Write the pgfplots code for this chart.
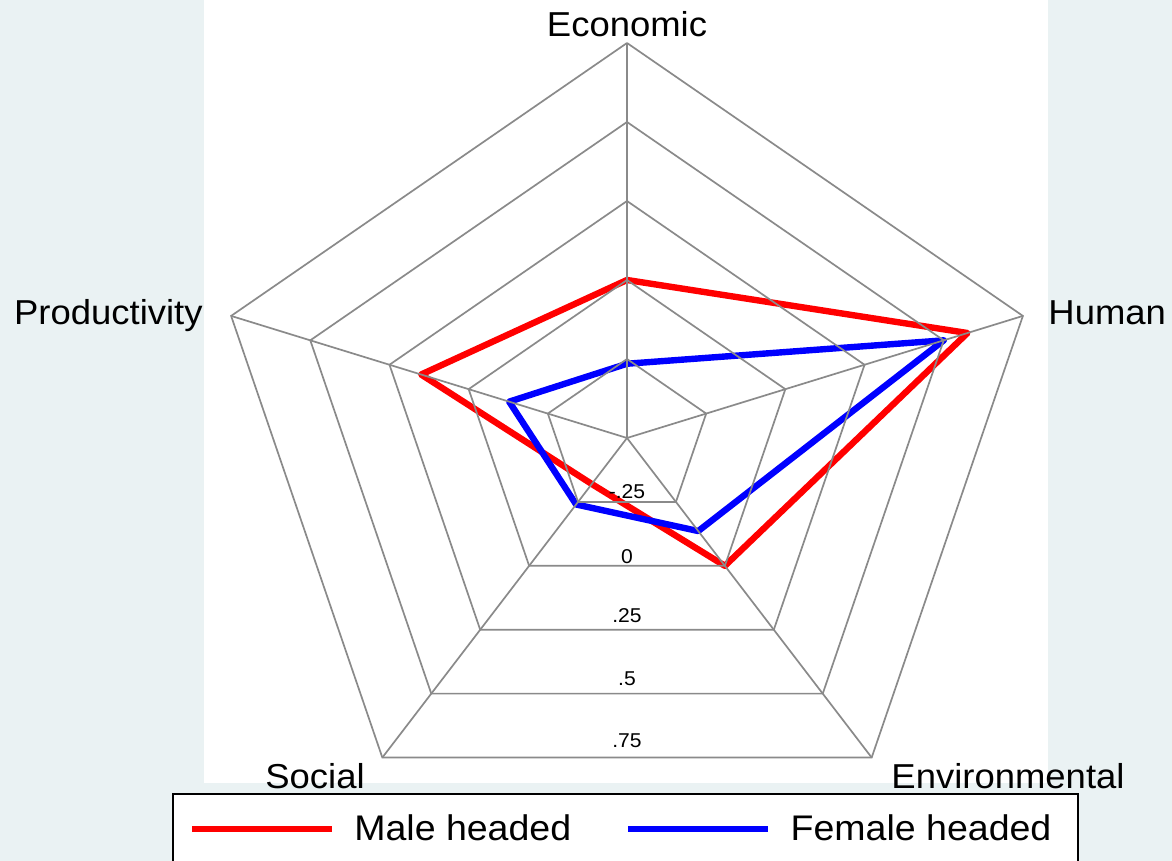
\documentclass[border=0pt]{standalone}
\usepackage{pgfplots}
\pgfplotsset{compat=1.18}
\usepackage{pgfplotstable}
\usepackage{fontspec}
\setmainfont{Liberation Sans}[FakeStretch=1.054]
\definecolor{bgc}{RGB}{234,242,243}
\definecolor{gridc}{RGB}{138,138,138}

% angle, value (radius = value + 0.5; centre = -.5, outer ring = .75)
\pgfplotstableread{
a male female
90 0.000 -0.265
18 0.575 0.500
-54 0.000 -0.136
-126 -0.320 -0.240
162 0.150 -0.128
90 0.000 -0.265
}\radar

\begin{document}
\begin{tikzpicture}
\begin{axis}[
  x=166.5pt, y=158pt,
  xmin=-1.8829, xmax=1.6366, ymin=-1.3386, ymax=1.3861,
  hide axis, clip=false,
  legend columns=2,
  legend image code/.code={\draw[#1] (0pt,0pt) -- (70pt,0pt);},
  legend style={draw=none, fill=none, at={(axis cs:-1.3168,-1.2373)}, anchor=west,
    inner sep=0pt, font=\fontsize{17.8}{21}\selectfont,
    nodes={inner sep=0pt},
    /tikz/every odd column/.append style={column sep=9.5pt},
    /tikz/every even column/.append style={column sep=27pt}},
]
\coordinate (sw) at (axis cs:-1.8829,-1.3386);
\coordinate (ne) at (axis cs:1.6366,1.3861);
\fill[bgc] (axis cs:-1.8829,-1.3386) rectangle (axis cs:1.6366,1.3861);
\fill[white] (axis cs:-1.2703,-1.0918) rectangle (axis cs:1.2643,1.3861);
\draw[black, line width=0.8pt, fill=white] (axis cs:-1.3634,-1.45) rectangle (axis cs:1.3544,-1.1266);

\addplot[red, line width=3.2pt, line join=round, data cs=polar] table[x=a, y expr=\thisrow{male}+0.5] {\radar};
\addlegendentry{Male headed}
\addplot[blue, line width=3.2pt, line join=round, data cs=polar] table[x=a, y expr=\thisrow{female}+0.5] {\radar};
\addlegendentry{Female headed}

% grid rings
\addplot[gridc, line width=0.85pt, data cs=polar, forget plot] coordinates {(90,0.25)(18,0.25)(-54,0.25)(-126,0.25)(162,0.25)(90,0.25)};
\addplot[gridc, line width=0.85pt, data cs=polar, forget plot] coordinates {(90,0.5)(18,0.5)(-54,0.5)(-126,0.5)(162,0.5)(90,0.5)};
\addplot[gridc, line width=0.85pt, data cs=polar, forget plot] coordinates {(90,0.75)(18,0.75)(-54,0.75)(-126,0.75)(162,0.75)(90,0.75)};
\addplot[gridc, line width=0.85pt, data cs=polar, forget plot] coordinates {(90,1)(18,1)(-54,1)(-126,1)(162,1)(90,1)};
\addplot[gridc, line width=0.85pt, data cs=polar, forget plot] coordinates {(90,1.25)(18,1.25)(-54,1.25)(-126,1.25)(162,1.25)(90,1.25)};
% spokes
\addplot[gridc, line width=0.85pt, data cs=polar, forget plot] coordinates {(90,0)(90,1.25)};
\addplot[gridc, line width=0.85pt, data cs=polar, forget plot] coordinates {(18,0)(18,1.25)};
\addplot[gridc, line width=0.85pt, data cs=polar, forget plot] coordinates {(-54,0)(-54,1.25)};
\addplot[gridc, line width=0.85pt, data cs=polar, forget plot] coordinates {(-126,0)(-126,1.25)};
\addplot[gridc, line width=0.85pt, data cs=polar, forget plot] coordinates {(162,0)(162,1.25)};

% ring labels
\begin{scope}[font=\fontsize{10}{12}\selectfont]
\node[anchor=base, inner sep=0pt] at (axis cs:0,-0.193) {-.25};
\node[anchor=base, inner sep=0pt] at (axis cs:0,-0.3956) {0};
\node[anchor=base, inner sep=0pt] at (axis cs:0,-0.5854) {.25};
\node[anchor=base, inner sep=0pt] at (axis cs:0,-0.7848) {.5};
\node[anchor=base, inner sep=0pt] at (axis cs:0,-0.981) {.75};
\end{scope}

% axis names
\begin{scope}[font=\fontsize{17.3}{20}\selectfont]
\node[anchor=base, inner sep=0pt] at (axis cs:0,1.269) {Economic};
\node[anchor=base west, inner sep=0pt] at (axis cs:1.2643,0.3576) {Human};
\node[anchor=base east, inner sep=0pt] at (axis cs:-1.2733,0.3576) {Productivity};
\node[anchor=base, inner sep=0pt] at (axis cs:-0.937,-1.1076) {Social};
\node[anchor=base, inner sep=0pt] at (axis cs:1.1441,-1.1076) {Environmental};
\end{scope}
\end{axis}
\pgfresetboundingbox
\path[use as bounding box] (sw) rectangle (ne);
\end{tikzpicture}
\end{document}
